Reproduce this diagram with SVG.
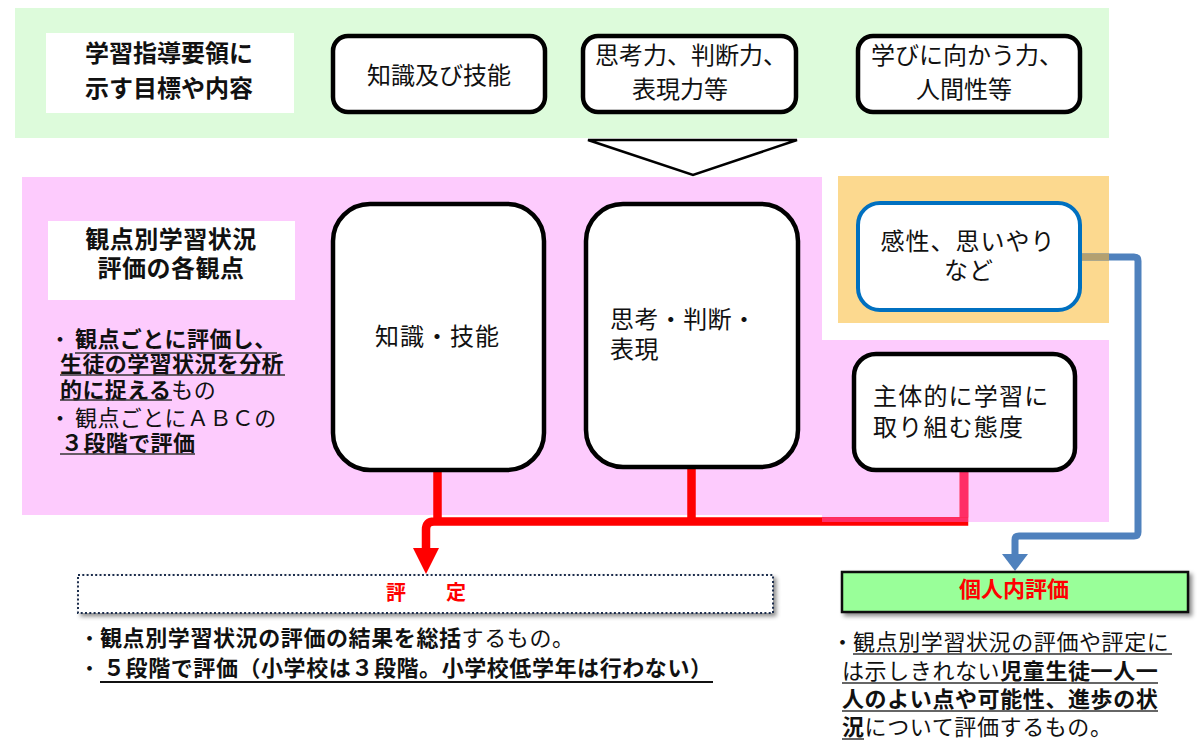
<svg xmlns="http://www.w3.org/2000/svg" width="1204" height="747" viewBox="0 0 1204 747">
<defs>
<style>
text{font-family:"Noto Sans CJK JP","Noto Sans CJK SC",sans-serif;fill:#111;}
.t24{font-size:24px;}
.t22{font-size:22px;}
.b{font-weight:700;}
.n{font-weight:400;}
.box{fill:#fff;stroke:#000;stroke-width:4.5;}
.ul{stroke:#333;stroke-width:1.5;}
</style>
<filter id="sh" x="-5%" y="-20%" width="110%" height="160%">
<feDropShadow dx="3" dy="3" stdDeviation="2" flood-color="#000" flood-opacity="0.45"/>
</filter>
</defs>

<!-- backgrounds -->
<rect x="15" y="8" width="1094" height="130" fill="#DDFBDB"/>
<rect x="22" y="177" width="800" height="338" fill="#FDCBFD"/>
<rect x="822" y="340" width="287" height="182" fill="#FDCBFD"/>
<rect x="838" y="176" width="271" height="147" fill="#FCD98F"/>

<!-- top header -->
<g id="header-top">
<rect x="46" y="33" width="248" height="80" fill="#fff"/>
<text class="t24 b" x="169" y="62" text-anchor="middle">学習指導要領に</text>
<text class="t24 b" x="169" y="97" text-anchor="middle">示す目標や内容</text>
</g>
<g id="top-knowledge">
<rect class="box" x="333" y="36" width="212" height="76" rx="15" stroke-width="4"/>
<text class="t24 n" x="439" y="84" text-anchor="middle">知識及び技能</text>
</g>
<g id="top-thinking">
<rect class="box" x="583" y="36" width="213" height="76" rx="15" stroke-width="4"/>
<text class="t24 n" x="595" y="64">思考力、判断力、</text>
<text class="t24 n" x="680" y="98" text-anchor="middle">表現力等</text>
</g>
<g id="top-attitude">
<rect class="box" x="858" y="36" width="222" height="76" rx="15" stroke-width="4"/>
<text class="t24 n" x="871" y="64">学びに向かう力、</text>
<text class="t24 n" x="964" y="98" text-anchor="middle">人間性等</text>
</g>
<g id="chevron">
<polygon points="588,140 797,140 693,175" fill="#fff" stroke="#000" stroke-width="2.5" stroke-linejoin="miter"/>
</g>

<!-- left header -->
<g id="header-viewpoints">
<rect x="48" y="221" width="247" height="79" fill="#fff"/>
<text class="t24 b" x="171" y="248" text-anchor="middle" letter-spacing="0.5">観点別学習状況</text>
<text class="t24 b" x="171" y="277" text-anchor="middle" letter-spacing="0.5">評価の各観点</text>
</g>
<g id="left-notes">
<text class="t22" x="49" y="347" letter-spacing="0.4"><tspan class="n">・</tspan><tspan class="b" x="75">観点ごとに評価し、</tspan></text>
<text class="t22 b" x="60" y="372" letter-spacing="0.4">生徒の学習状況を分析</text>
<text class="t22" x="60" y="398" letter-spacing="0.4"><tspan class="b">的に捉える</tspan><tspan class="n">もの</tspan></text>
<text class="t22 n" x="49" y="426" letter-spacing="0.4"><tspan>・</tspan><tspan x="75">観点ごとにＡＢＣの</tspan></text>
<text class="t22 b" x="61" y="451" letter-spacing="0.4">３段階で評価</text>
<line class="ul" x1="75" y1="353" x2="277" y2="353"/>
<line class="ul" x1="60" y1="375" x2="285" y2="375"/>
<line class="ul" x1="60" y1="400" x2="172" y2="400"/>
<line class="ul" x1="60" y1="454" x2="195" y2="454"/>
</g>

<!-- connectors -->
<g id="connectors" fill="none">
<path d="M437.5,471 V521.5 M691.5,468 V521.5 M964,472 V521.5 H434 Q426,521.5 426,529.5 V550" stroke="#FF0000" stroke-width="8.5"/>
<path d="M964,472 V517.5" stroke="#FF2E66" stroke-width="8.5"/>
<rect x="822" y="517.3" width="146" height="4.7" fill="#FF2E66" stroke="none"/>
<polygon points="413,548 439,548 426,574" fill="#FF0000"/>
<path d="M1081,257 H1134 Q1138,257 1138,261 V532 Q1138,536 1134,536 H1019 Q1015,536 1015,540 V556" stroke="#4F81BD" stroke-width="7"/>
<path d="M1081,257 H1109" stroke="#B3A070" stroke-width="7"/>
<polygon points="1002,554 1028,554 1015,571" fill="#4F81BD"/>
</g>

<!-- viewpoint boxes -->
<g id="vp-knowledge">
<rect class="box" x="333" y="204" width="211" height="266" rx="37"/>
<text class="t24 n" x="375" y="345" letter-spacing="1">知識・技能</text>
</g>
<g id="vp-thinking">
<rect class="box" x="586" y="204" width="212" height="263" rx="37"/>
<text class="t24 n" x="610" y="328" letter-spacing="0.4">思考・判断・</text>
<text class="t24 n" x="610" y="358" letter-spacing="0.4">表現</text>
</g>
<g id="sensitivity">
<rect x="858" y="203" width="222" height="107" rx="22" fill="#fff" stroke="#0070C0" stroke-width="4"/>
<text class="t24 n" x="968" y="250" text-anchor="middle" letter-spacing="1">感性、思いやり</text>
<text class="t24 n" x="969" y="279" text-anchor="middle" letter-spacing="1">など</text>
</g>
<g id="vp-attitude">
<rect class="box" x="854" y="354" width="221" height="116" rx="22"/>
<text class="t24 n" x="873" y="405" letter-spacing="1.2">主体的に学習に</text>
<text class="t24 n" x="873" y="436" letter-spacing="1.2">取り組む態度</text>
</g>

<!-- grading -->
<g id="grading">
<rect x="78" y="575" width="695" height="38" fill="#fff" stroke="#1F2D4D" stroke-width="2" stroke-dasharray="2 2.3" filter="url(#sh)"/>
<text x="426" y="600" text-anchor="middle" font-size="20" font-weight="700" style="fill:#FF0000">評　　定</text>
</g>
<g id="grading-notes">
<text class="t22" x="78.5" y="646" letter-spacing="0.6"><tspan class="n">・</tspan><tspan class="b" x="100">観点別学習状況の評価の結果を総括</tspan><tspan class="n">するもの。</tspan></text>
<text class="t22" x="78.5" y="676"><tspan class="n">・</tspan><tspan class="b" x="103" textLength="609" lengthAdjust="spacing">５段階で評価（小学校は３段階。小学校低学年は行わない）</tspan></text>
<line x1="100" y1="682" x2="713" y2="682" stroke="#111" stroke-width="1.8"/>
</g>

<!-- individual evaluation -->
<g id="individual">
<rect x="842" y="572" width="346" height="40" fill="#99FF99" stroke="#111" stroke-width="2.5" filter="url(#sh)"/>
<text x="1014" y="597" text-anchor="middle" font-size="22" font-weight="700" style="fill:#FF0000">個人内評価</text>
</g>
<g id="individual-notes">
<text class="t22 n" x="831.5" y="650" letter-spacing="0.6"><tspan>・</tspan><tspan x="853">観点別学習状況の評価や評定に</tspan></text>
<text class="t22" x="842" y="679" letter-spacing="0.6"><tspan class="n">は示しきれない</tspan><tspan class="b">児童生徒一人一</tspan></text>
<text class="t22 b" x="842" y="707" letter-spacing="0.6">人のよい点や可能性、進歩の状</text>
<text class="t22" x="842" y="735" letter-spacing="0.6"><tspan class="b">況</tspan><tspan class="n">について評価するもの。</tspan></text>
<line class="ul" x1="853" y1="654" x2="1172" y2="654"/>
<line class="ul" x1="842" y1="683" x2="1158" y2="683"/>
<line class="ul" x1="842" y1="711" x2="1158" y2="711"/>
<line class="ul" x1="842" y1="739" x2="864" y2="739"/>
</g>
</svg>
